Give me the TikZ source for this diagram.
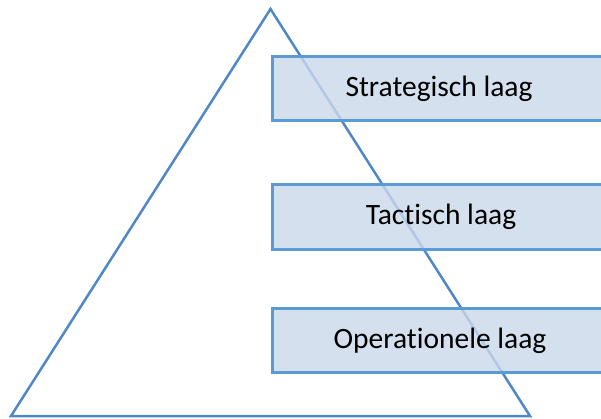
\documentclass[tikz,border=0pt]{standalone}
\usepackage{fontspec}
\setmainfont[Ligatures=NoCommon]{Carlito}
\definecolor{triblue}{HTML}{5087C7}
\definecolor{boxline}{HTML}{5B9BD5}
\definecolor{boxfill}{RGB}{202,216,235}
\begin{document}
\begin{tikzpicture}[x=1pt,y=-1pt,
  layer/.style={draw=boxline,line width=3pt,fill=boxfill,fill opacity=0.8,
    minimum height=64pt,minimum width=340pt,anchor=west,inner sep=0pt},
  label/.style={font=\fontsize{29.5}{34}\selectfont,text=black,inner sep=0pt}]
\useasboundingbox (0,0) rectangle (601,419);
\coordinate (apex) at (270.5,9);
\coordinate (bl) at (11,416);
\coordinate (br) at (530,416);
\draw[triblue,line width=2.5pt,line join=miter] (apex) -- (br) -- (bl) -- cycle;
\node[layer] (s) at (271,88.5) {};
\node[layer] (t) at (271,217) {};
\node[layer] (o) at (271,340.5) {};
\node[label] (sl) at (439,88.5) {Strategisch laag};
\node[label] (tl) at (441,217) {Tactisch laag};
\node[label] (ol) at (440,340.5) {Operationele laag};
\end{tikzpicture}
\end{document}
